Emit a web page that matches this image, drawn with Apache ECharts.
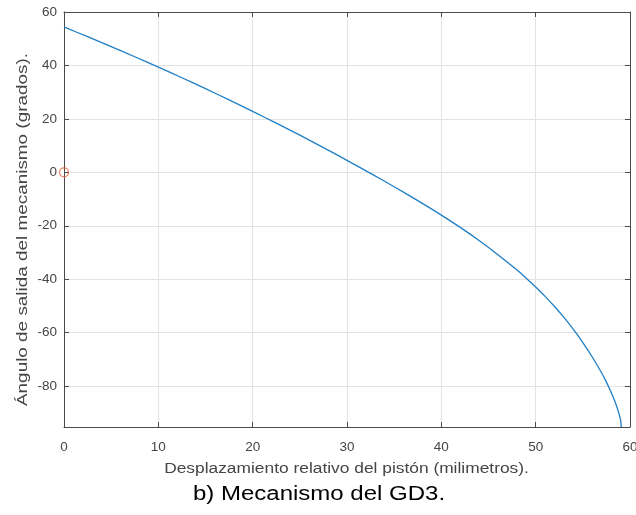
<!DOCTYPE html>
<html>
<head>
<meta charset="utf-8">
<script src="https://cdn.jsdelivr.net/npm/echarts@6/dist/echarts.min.js"></script>
<style>
html,body{margin:0;padding:0;background:#fff;}
#chart{width:636px;height:515px;}
</style>
</head>
<body>
<div id="chart"></div>
<script>
// Data
const displacementMm = [0, 2.5, 5, 7.5, 10, 12.5, 15, 17.5, 20, 22.5, 25, 27.5, 30, 32.5, 35, 37.5, 40, 42, 44, 46, 48, 49, 50, 51, 52, 53, 54, 55, 56, 57, 57.5, 58, 58.5, 58.8, 59.0, 59.07];
const outputAngleDeg = [54.4, 50.75, 47.05, 43.25, 39.4, 35.4, 31.3, 27.1, 22.8, 18.4, 13.9, 9.25, 4.5, -0.4, -5.4, -10.6, -16.0, -20.6, -25.5, -30.8, -36.5, -39.6, -42.9, -46.4, -50.2, -54.3, -58.8, -63.7, -69.1, -75.1, -78.5, -82.3, -86.7, -89.9, -92.6, -95.3];
const startPoint = [0, 0];
const xTicks = [0, 10, 20, 30, 40, 50, 60];
const yTicks = [-80, -60, -40, -20, 0, 20, 40, 60];

const xLabel = 'Desplazamiento relativo del pistón (milimetros).';
const yLabel = 'Ángulo de salida del mecanismo (grados).';
const caption = 'b) Mecanismo del GD3.';

const axisColor = '#4a4a4a';
const labelColor = '#454545';
const gridColor = '#e3e3e3';
const font = 'Liberation Sans, Arial, Helvetica, sans-serif';

const chart = echarts.init(document.getElementById('chart'), null, {renderer: 'canvas'});

const xMin = xTicks[0], xMax = xTicks[xTicks.length - 1];
const yMin = -95.3, yMax = yTicks[yTicks.length - 1];

const lineData = displacementMm.map((x, i) => [x, outputAngleDeg[i]]);

const baseX = {
  type: 'value', min: xMin, max: xMax, interval: 10,
  axisLine: {show: true, onZero: false, lineStyle: {color: axisColor, width: 1}},
  axisTick: {show: true, inside: true, length: 5, lineStyle: {color: axisColor}},
  splitLine: {show: true, lineStyle: {color: gridColor, width: 1}}
};
const baseY = {
  type: 'value', min: yMin, max: yMax,
  axisLine: {show: true, onZero: false, lineStyle: {color: axisColor, width: 1}},
  axisTick: {show: true, inside: true, length: 5, customValues: yTicks, lineStyle: {color: axisColor}},
  splitLine: {show: true, lineStyle: {color: gridColor, width: 1}}
};

chart.setOption({
  animation: false,
  backgroundColor: '#ffffff',
  textStyle: {fontFamily: font},
  grid: {left: 64, right: 6, top: 12, bottom: 88, containLabel: false, outerBoundsMode: 'none'},
  xAxis: [
    Object.assign({}, baseX, {
      position: 'bottom',
      axisLabel: {show: true, margin: 13, color: labelColor, fontSize: 13.5, fontFamily: font}
    }),
    Object.assign({}, baseX, {
      position: 'top',
      axisLabel: {show: false},
      splitLine: {show: false}
    })
  ],
  yAxis: [
    Object.assign({}, baseY, {
      position: 'left',
      axisLabel: {show: true, margin: 7, color: labelColor, fontSize: 13.5, fontFamily: font, customValues: yTicks}
    }),
    Object.assign({}, baseY, {
      position: 'right',
      axisLabel: {show: false},
      splitLine: {show: false}
    })
  ],
  series: [
    {
      type: 'line',
      data: lineData,
      xAxisIndex: 0, yAxisIndex: 0,
      showSymbol: false,
      smooth: 0.3,
      lineStyle: {color: '#1f7fc6', width: 1.3},
      z: 3
    },
    {
      type: 'scatter',
      data: [startPoint],
      xAxisIndex: 0, yAxisIndex: 0,
      symbol: 'circle',
      symbolSize: 9,
      itemStyle: {color: 'rgba(0,0,0,0)', borderColor: '#e0643a', borderWidth: 1.2},
      z: 4
    }
  ],
  graphic: [
    {type: 'text', x: 346.5, y: 469.5, scaleX: 1.24,
      style: {text: xLabel, fontSize: 14, fill: labelColor, fontFamily: font, align: 'center', verticalAlign: 'middle'}},
    {type: 'text', x: 23, y: 229.5, rotation: Math.PI / 2, scaleX: 1.35,
      style: {text: yLabel, fontSize: 14, fill: labelColor, fontFamily: font, align: 'center', verticalAlign: 'middle'}},
    {type: 'text', x: 319, y: 494.5, scaleX: 1.2,
      style: {text: caption, fontSize: 20, fill: '#000000', fontFamily: font, align: 'center', verticalAlign: 'middle'}},
    {type: 'text', x: 620, y: -1, style: {text: '`', fontSize: 10, fill: '#666', fontFamily: font}}
  ]
});
</script>
</body>
</html>
